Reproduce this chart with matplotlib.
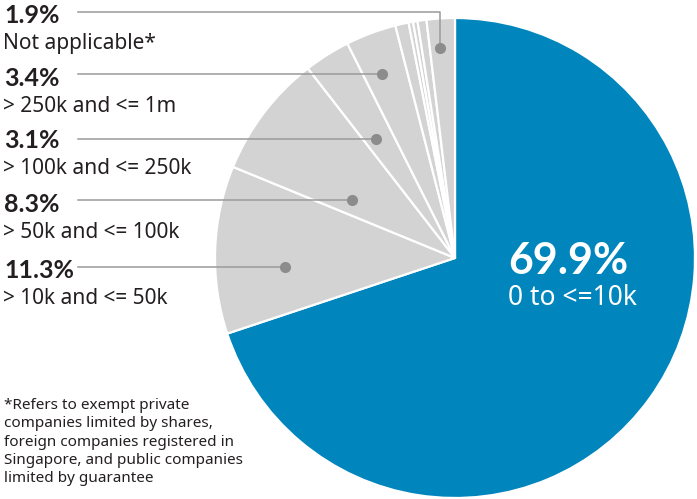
import matplotlib.pyplot as plt

# share of companies by band (clockwise from 12 o'clock)
shares = [69.9, 11.3, 8.3, 3.1, 3.4, 0.9, 0.3, 0.3, 0.6, 1.9]
labelled_pct = ["1.9%", "3.4%", "3.1%", "8.3%", "11.3%"]
labelled_txt = ["Not applicable*", "> 250k and <= 1m", "> 100k and <= 250k",
                "> 50k and <= 100k", "> 10k and <= 50k"]
big_pct = "69.9%"
big_txt = "0 to <=10k"
note = ("*Refers to exempt private\ncompanies limited by shares,\n"
        "foreign companies registered in\nSingapore, and public companies\n"
        "limited by guarantee")

BLUE = "#0085bd"
GREY = "#d3d3d4"
LINE = "#9a9a9a"
plt.rcParams['font.family'] = ['Noto Sans', 'DejaVu Sans']
BOLD = ['Lato', 'DejaVu Sans']

W, H = 697, 499
fig = plt.figure(figsize=(W / 100, H / 100), dpi=100)

# pie centre (455, 258) px, radius 240 px
cx, cy, R = 455, 258, 240
ax = fig.add_axes([(cx - R) / W, (H - cy - R) / H, 2 * R / W, 2 * R / H])
colors = [BLUE] + [GREY] * (len(shares) - 1)
ax.pie(shares, colors=colors, startangle=90, counterclock=False,
       wedgeprops=dict(edgecolor="white", linewidth=1.6))
ax.set_xlim(-1, 1)
ax.set_ylim(-1, 1)
ax.set_aspect("auto")
ax.axis("off")

# dots inside the labelled slices (pie units)
dots = [(-0.0625, 0.875), (-0.304, 0.767), (-0.329, 0.496), (-0.429, 0.242), (-0.708, -0.0375)]
text_y = [15, 78, 141, 205, 270]   # px from top of percent lines
line_x = 78


def px(x, y):
    # pie units -> figure pixel coords (from top)
    return cx + x * R, cy - y * R


over = fig.add_axes([0, 0, 1, 1])
over.set_xlim(0, W)
over.set_ylim(H, 0)
over.axis("off")

for i, (d, pct, txt, ty) in enumerate(zip(dots, labelled_pct, labelled_txt, text_y)):
    x, y = px(*d)
    if i == 0:
        over.plot([x, x, line_x], [y, 12, 12], color=LINE, lw=1.1)
    else:
        over.plot([x, line_x], [y, y], color=LINE, lw=1.1)
    over.plot(x, y, "o", color="#8c8c8c", ms=8, mec="none")
    over.text(4, ty, pct, fontsize=18, fontweight="bold", family=BOLD,
              color="#231f20", va="center", ha="left")
    over.text(3, ty + 28, txt, fontsize=15, color="#231f20", va="center", ha="left")

over.text(508, 261, big_pct, fontsize=31, fontweight="bold", family=BOLD,
          color="white", va="center", ha="left")
over.text(508, 298, big_txt, fontsize=19, color="white", va="center", ha="left")

over.text(4, 398, note, fontsize=11, color="#231f20", va="top", ha="left", linespacing=1.3)

fig.savefig("out.png", dpi=100)
